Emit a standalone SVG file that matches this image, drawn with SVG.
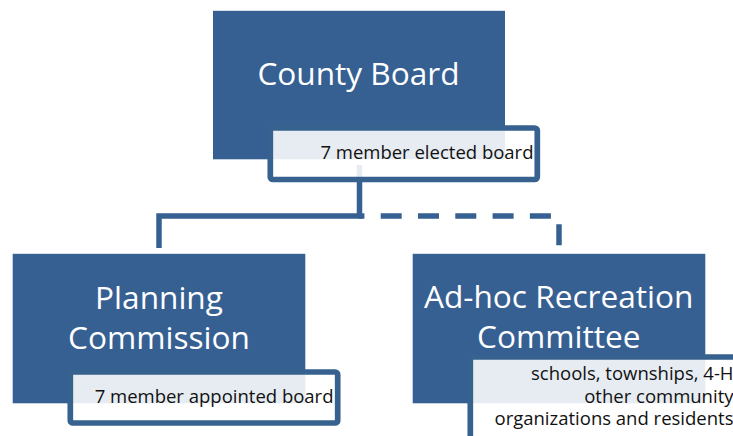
<svg xmlns="http://www.w3.org/2000/svg" width="733" height="436" viewBox="0 0 733 436">
  <style>
    .box { fill: #366092; }
    .sub { fill: #ffffff; fill-opacity: 0.88; stroke: #37618f; stroke-width: 5.7; }
    .title { font-family: "Open Sans", "Liberation Sans", sans-serif; font-size: 31.6px; fill: #ffffff; text-anchor: middle; }
    .note { font-family: "Open Sans", "Liberation Sans", sans-serif; font-size: 18.5px; fill: #111111; text-anchor: end; }
    .conn { fill: none; stroke: #366092; stroke-width: 5.5; stroke-linejoin: miter; stroke-linecap: butt; }
    .dash { stroke-dasharray: 21 16.3; stroke-dashoffset: 15.6; }
  </style>
  <rect width="733" height="436" fill="#ffffff"/>
  <g id="connectors">
    <path class="conn" d="M359.5,165 V216 H159 V248"/>
    <path class="conn dash" d="M359,216 H559 V248"/>
  </g>
  <g id="county-board">
    <rect class="box" x="213" y="10.8" width="292" height="148.5"/>
    <text class="title" x="358.5" y="85">County Board</text>
    <rect class="sub" x="270.3" y="128" width="267" height="51.5" rx="2.5"/>
    <text class="note" x="533.5" y="159.3">7 member elected board</text>
  </g>
  <g id="planning-commission">
    <rect class="box" x="12.7" y="253.8" width="292.6" height="149.5"/>
    <text class="title" x="159" y="309.3">Planning<tspan x="159" y="349.3">Commission</tspan></text>
    <rect class="sub" x="70.3" y="372" width="267.4" height="51" rx="2.5"/>
    <text class="note" x="333.5" y="403.3">7 member appointed board</text>
  </g>
  <g id="adhoc-recreation-committee">
    <rect class="box" x="412.7" y="253.8" width="292.6" height="149.5"/>
    <text class="title" x="558.7" y="308.3">Ad-hoc Recreation<tspan x="558.7" y="348.3">Committee</tspan></text>
    <rect class="sub" x="470.3" y="357" width="267" height="110" rx="2.5"/>
    <text class="note" x="733.5" y="380">schools, townships, 4-H<tspan x="733.5" y="402.7">other community</tspan><tspan x="733.5" y="425">organizations and residents</tspan></text>
  </g>
</svg>
